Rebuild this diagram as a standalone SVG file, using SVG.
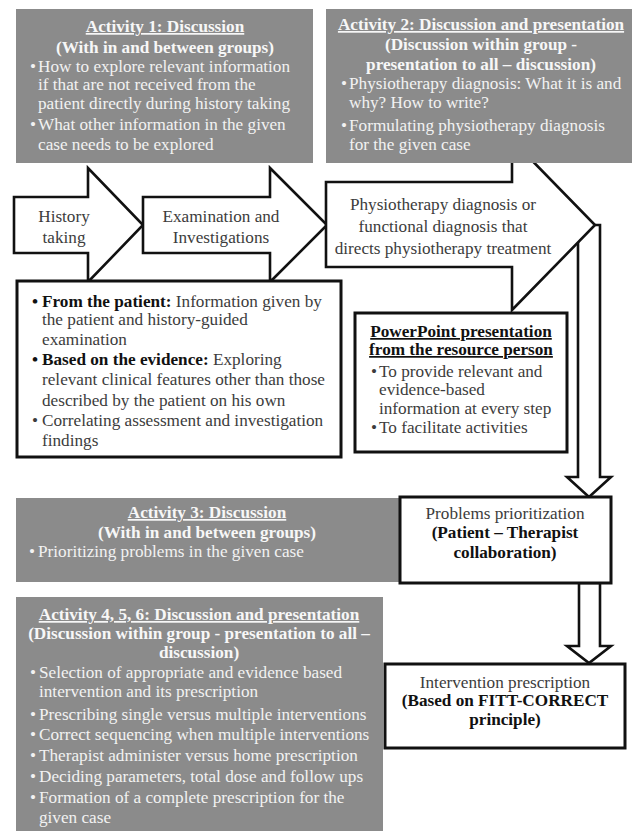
<svg xmlns="http://www.w3.org/2000/svg" width="634" height="831" viewBox="0 0 634 831" font-family="'Liberation Serif', 'Times New Roman', serif" font-size="17">
<style>
text{font-family:'Liberation Serif','Times New Roman',serif;font-size:17.2px}
.gb{fill:#8b8b8b}
.gt{fill:#f2f2f2}
.gh{fill:#f7f7f7;font-weight:bold;text-anchor:middle}
.u{text-decoration:underline}
.wb{fill:#fff;stroke:#111;stroke-width:3}
.ar{fill:#fff;stroke:#111;stroke-width:2.6;stroke-linejoin:miter}
.dt{fill:#3c3c3c}
.bt{fill:#111;font-weight:bold}
.c{text-anchor:middle}
</style>

<g id="connectors">
  <polygon class="ar" points="578,225 578,477 567,477 589,497 611,477 600,477 600,225"/>
  <polygon class="ar" points="579,583 579,646 567,646 589,663 611,646 600,646 600,583"/>
</g>

<g id="arrow-history">
  <polygon class="ar" points="14,197 88,197 88,168 143,225 88,282 88,253 14,253"/>
  <text class="dt c" x="64" y="222">History</text>
  <text class="dt c" x="64" y="243">taking</text>
</g>

<g id="arrow-exam">
  <polygon class="ar" points="143,197 270,197 270,168 327,225 270,282 270,253 143,253"/>
  <text class="dt c" x="221" y="222">Examination and</text>
  <text class="dt c" x="221" y="243">Investigations</text>
</g>

<g id="arrow-diagnosis">
  <polygon class="ar" points="326,182 512,182 512,140 595,225 512,310 512,267 326,267"/>
  <text class="dt c" x="443" y="210">Physiotherapy diagnosis or</text>
  <text class="dt c" x="443" y="232">functional diagnosis that</text>
  <text class="dt c" x="443" y="254">directs physiotherapy treatment</text>
</g>

<g id="activity1">
  <rect class="gb" x="16" y="9" width="297" height="154"/>
  <text class="gh u" x="165" y="32">Activity 1: Discussion</text>
  <text class="gh" x="165" y="53">(With in and between groups)</text>
  <text class="gt" x="30" y="72">•</text>
  <text class="gt" x="38" y="72">How to explore relevant information</text>
  <text class="gt" x="38" y="90">if that are not received from the</text>
  <text class="gt" x="38" y="109">patient directly during history taking</text>
  <text class="gt" x="30" y="130">•</text>
  <text class="gt" x="38" y="130">What other information in the given</text>
  <text class="gt" x="38" y="150">case needs to be explored</text>
</g>

<g id="activity2">
  <rect class="gb" x="326" y="9" width="306" height="154"/>
  <text class="gh u" x="481" y="30">Activity 2: Discussion and presentation</text>
  <text class="gh" x="481" y="50">(Discussion within group -</text>
  <text class="gh" x="481" y="70">presentation to all – discussion)</text>
  <text class="gt" x="341" y="89">•</text>
  <text class="gt" x="349" y="89">Physiotherapy diagnosis: What it is and</text>
  <text class="gt" x="349" y="108">why? How to write?</text>
  <text class="gt" x="341" y="131">•</text>
  <text class="gt" x="349" y="131">Formulating physiotherapy diagnosis</text>
  <text class="gt" x="349" y="150">for the given case</text>
</g>

<g id="assessment">
  <rect class="wb" x="17" y="281" width="324" height="176"/>
  <text class="bt" x="32" y="307">•</text>
  <text x="42" y="307"><tspan class="bt">From the patient:</tspan><tspan class="dt"> Information given by</tspan></text>
  <text class="dt" x="42" y="325">the patient and history-guided</text>
  <text class="dt" x="42" y="345">examination</text>
  <text class="bt" x="32" y="365">•</text>
  <text x="42" y="365"><tspan class="bt">Based on the evidence:</tspan><tspan class="dt"> Exploring</tspan></text>
  <text class="dt" x="42" y="385">relevant clinical features other than those</text>
  <text class="dt" x="42" y="406">described by the patient on his own</text>
  <text class="dt" x="32" y="426">•</text>
  <text class="dt" x="42" y="426">Correlating assessment and investigation</text>
  <text class="dt" x="42" y="446">findings</text>
</g>

<g id="powerpoint">
  <rect class="wb" x="355" y="313" width="212" height="139"/>
  <text class="bt c u" x="461" y="337">PowerPoint presentation</text>
  <text class="bt c u" x="461" y="355">from the resource person</text>
  <text class="dt" x="371" y="377">•</text>
  <text class="dt" x="379" y="377">To provide relevant and</text>
  <text class="dt" x="379" y="395">evidence-based</text>
  <text class="dt" x="379" y="414">information at every step</text>
  <text class="dt" x="371" y="433">•</text>
  <text class="dt" x="379" y="433">To facilitate activities</text>
</g>

<g id="activity3">
  <rect class="gb" x="16" y="498" width="386" height="84"/>
  <text class="gh u" x="207" y="518">Activity 3: Discussion</text>
  <text class="gh" x="207" y="538">(With in and between groups)</text>
  <text class="gt" x="29" y="557">•</text>
  <text class="gt" x="38" y="557">Prioritizing problems in the given case</text>
</g>

<g id="problems">
  <rect class="wb" x="400" y="497" width="211" height="86"/>
  <text class="dt c" x="505" y="519">Problems prioritization</text>
  <text class="bt c" x="505" y="538">(Patient – Therapist</text>
  <text class="bt c" x="505" y="558">collaboration)</text>
</g>

<g id="activity456">
  <rect class="gb" x="16" y="597" width="367" height="240"/>
  <text class="gh u" x="199" y="620">Activity 4, 5, 6: Discussion and presentation</text>
  <text class="gh" x="199" y="639">(Discussion within group - presentation to all –</text>
  <text class="gh" x="199" y="658">discussion)</text>
  <text class="gt" x="30" y="678">•</text>
  <text class="gt" x="39" y="678">Selection of appropriate and evidence based</text>
  <text class="gt" x="39" y="697">intervention and its prescription</text>
  <text class="gt" x="30" y="720">•</text>
  <text class="gt" x="39" y="720">Prescribing single versus multiple interventions</text>
  <text class="gt" x="30" y="740">•</text>
  <text class="gt" x="39" y="740">Correct sequencing when multiple interventions</text>
  <text class="gt" x="30" y="761">•</text>
  <text class="gt" x="39" y="761">Therapist administer versus home prescription</text>
  <text class="gt" x="30" y="782">•</text>
  <text class="gt" x="39" y="782">Deciding parameters, total dose and follow ups</text>
  <text class="gt" x="30" y="803">•</text>
  <text class="gt" x="39" y="803">Formation of a complete prescription for the</text>
  <text class="gt" x="39" y="823">given case</text>
</g>

<g id="intervention">
  <rect class="wb" x="385" y="664" width="240" height="84"/>
  <text class="dt c" x="505" y="688">Intervention prescription</text>
  <text class="bt c" x="505" y="706">(Based on FITT-CORRECT</text>
  <text class="bt c" x="505" y="725">principle)</text>
</g>
</svg>
